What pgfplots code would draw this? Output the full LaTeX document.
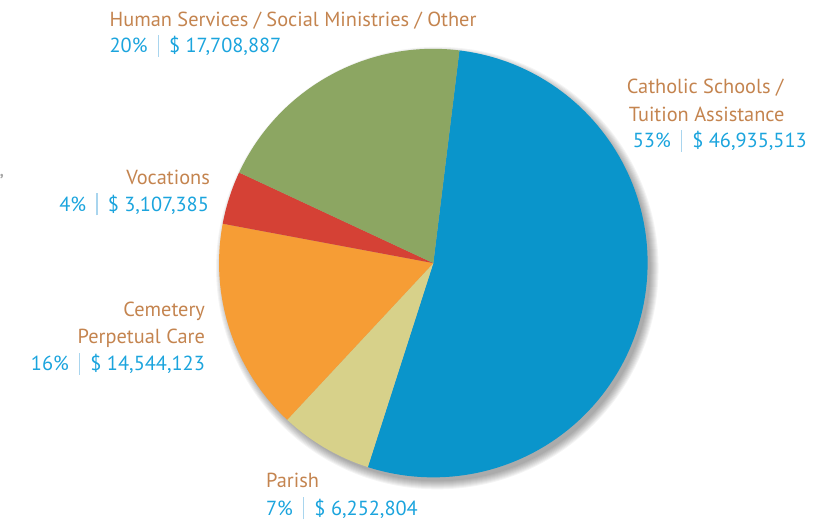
\documentclass[border=0pt]{standalone}
\usepackage{pgfplots}
\pgfplotsset{compat=1.18}
\usepackage{pgfplotstable}
\usepackage{fontspec}
\setmainfont{PT Sans}

\definecolor{cschool}{HTML}{0A95CB}
\definecolor{cparish}{HTML}{D7D18A}
\definecolor{ccemetery}{HTML}{F69D35}
\definecolor{cvocation}{HTML}{D54135}
\definecolor{chuman}{HTML}{8CA662}
\definecolor{labbrown}{HTML}{C4844F}
\definecolor{valblue}{HTML}{1BA4DD}
\definecolor{sepblue}{HTML}{A9D5EE}

% share of each slice (percent) and amount, clockwise from the top
\pgfplotstableread[col sep=comma]{
name,pct,amount
Catholic Schools,53,46935513
Parish,7,6252804
Cemetery,16,14544123
Vocations,4,3107385
Human Services,20,17708887
}\piedata

% start / end angle of every slice
\def\cum{83}
\foreach \i in {0,...,4}{%
  \pgfplotstablegetelem{\i}{pct}\of\piedata
  \pgfmathsetmacro\e{\cum-3.6*\pgfplotsretval}%
  \expandafter\xdef\csname sa\i\endcsname{\cum}%
  \expandafter\xdef\csname ea\i\endcsname{\e}%
  \xdef\cum{\e}%
}

\newcommand\sector[2]{%
  \fill[#2] (axis cs:432,259) -- ++(\csname sa#1\endcsname:215bp)
    arc[start angle=\csname sa#1\endcsname, end angle=\csname ea#1\endcsname, radius=215bp] -- cycle;}

\newcommand\sep{\hspace{0.5em}{\color{sepblue}\rule[-0.2em]{0.06em}{1.08em}}\hspace{0.5em}}

\begin{document}
\begin{tikzpicture}
\begin{axis}[
  x=1bp, y=1bp,
  xmin=0, xmax=820, ymin=0, ymax=523,
  hide axis, clip=false,
]
\path (axis cs:0,0) rectangle (axis cs:820,523);

% soft shadow
\pgfplotsinvokeforeach{0,...,8}{
  \fill[black, opacity=0.045] (axis cs:436,254) circle[radius=214bp+#1bp];
}

\sector{0}{cschool}
\sector{1}{cparish}
\sector{2}{ccemetery}
\sector{3}{cvocation}
\sector{4}{chuman}

\tikzset{every node/.style={inner sep=0pt, font=\fontsize{20.5}{24}\selectfont}}

\node[anchor=base west, labbrown] at (axis cs:107,496) {Human Services / Social Ministries / Other};
\node[anchor=base west, valblue] at (axis cs:107,470) {20\%\sep\$ 17,708,887};

\node[anchor=base east, labbrown] at (axis cs:208,338) {Vocations};
\node[anchor=base east, valblue] at (axis cs:207,311) {4\%\sep\$ 3,107,385};

\node[anchor=base west, labbrown] at (axis cs:626,429) {Catholic Schools /};
\node[anchor=base west, labbrown] at (axis cs:628,401) {Tuition Assistance};
\node[anchor=base west, valblue] at (axis cs:632,375) {53\%\sep\$ 46,935,513};

\node[anchor=base east, labbrown] at (axis cs:203,205) {Cemetery};
\node[anchor=base east, labbrown] at (axis cs:203,178) {Perpetual Care};
\node[anchor=base east, valblue] at (axis cs:203,151) {16\%\sep\$ 14,544,123};

\node[anchor=base west, labbrown] at (axis cs:264,34) {Parish};
\node[anchor=base west, valblue] at (axis cs:264,6) {7\%\sep\$ 6,252,804};

\node[anchor=base west, gray!70, font=\fontsize{16}{16}\selectfont\bfseries] at (axis cs:-3,346) {,};
\end{axis}
\end{tikzpicture}
\end{document}
